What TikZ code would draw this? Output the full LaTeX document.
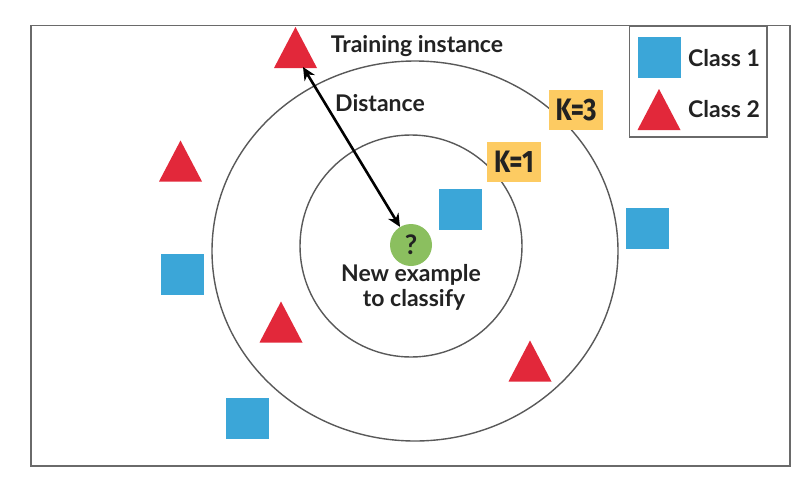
\documentclass[tikz,border=0pt]{standalone}
\usepackage{fontspec}
\setmainfont{Lato}
\newfontfamily\kfont{Fira Sans}
\usetikzlibrary{arrows.meta}
\definecolor{sqblue}{HTML}{3BA6D8}
\definecolor{trired}{HTML}{E2283A}
\definecolor{qgreen}{HTML}{8BBF5F}
\definecolor{kyellow}{HTML}{FDCB62}
\definecolor{txt}{HTML}{222222}
\definecolor{frame}{HTML}{6A6A6A}
\begin{document}
\begin{tikzpicture}[x=1pt,y=-1pt,
  sq/.style={rectangle, fill=sqblue, minimum width=43pt, minimum height=41pt, inner sep=0pt},
  tri/.pic={\fill[trired] (-21.5,20.5) -- (0,-20.5) -- (21.5,20.5) -- cycle;},
  lbl/.style={font=\fontsize{23}{26}\selectfont\bfseries, text=txt, inner sep=0pt},
  kbox/.style={fill=kyellow, minimum width=54pt, minimum height=40pt, inner sep=0pt,
    font=\kfont\fontsize{31}{31}\selectfont\bfseries, text=txt},
  ring/.style={draw=black!65, line width=1.4pt}
]
\useasboundingbox (0,0) rectangle (809,477);
\fill[white] (0,0) rectangle (809,477);
% frame
\draw[frame, line width=1.6pt] (31,25.5) rectangle (790,466);
% rings
\draw[ring] (415,251) ellipse [x radius=203, y radius=190];
\draw[ring] (411,246) circle [radius=111];
% legend
\draw[frame, line width=1.8pt] (629.5,26) rectangle (767,137);
\node[sq] (l1) at (659,57) {};
\pic at (659,109.5) {tri};
\node[lbl, anchor=west] (c1) at (688,58) {Class 1};
\node[lbl, anchor=west] (c2) at (688,109) {Class 2};
% squares
\node[sq] (s1) at (460,209) {};
\node[sq] (s2) at (647.5,228.5) {};
\node[sq] (s3) at (182.5,274.5) {};
\node[sq] (s4) at (247,418.5) {};
% triangles
\pic at (295.5,47.5) {tri};
\pic at (180.5,161) {tri};
\pic at (281,322) {tri};
\pic at (530,361) {tri};
\coordinate (tt) at (303,67);
% K boxes
\node[kbox] (k3) at (576,110) {\scalebox{0.82}[1]{K=3}};
\node[kbox] (k1) at (514,161.5) {\scalebox{0.82}[1]{K=1}};
% new example
\node[circle, fill=qgreen, minimum size=42pt, inner sep=0pt, text=txt] (q) at (411,245)
  {\fontsize{27}{27}\selectfont\bfseries ?};
\draw[line width=2.6pt, {Stealth[length=13pt,width=12pt]}-{Stealth[length=13pt,width=12pt]}] (tt) -- (q);
% labels
\node[lbl] (ti) at (417,46) {Training instance};
\node[lbl] (di) at (380,103) {Distance};
\node[lbl] (ne) at (411,275) {New example};
\node[lbl] (tc) at (414,300) {to classify};
\end{tikzpicture}
\end{document}
